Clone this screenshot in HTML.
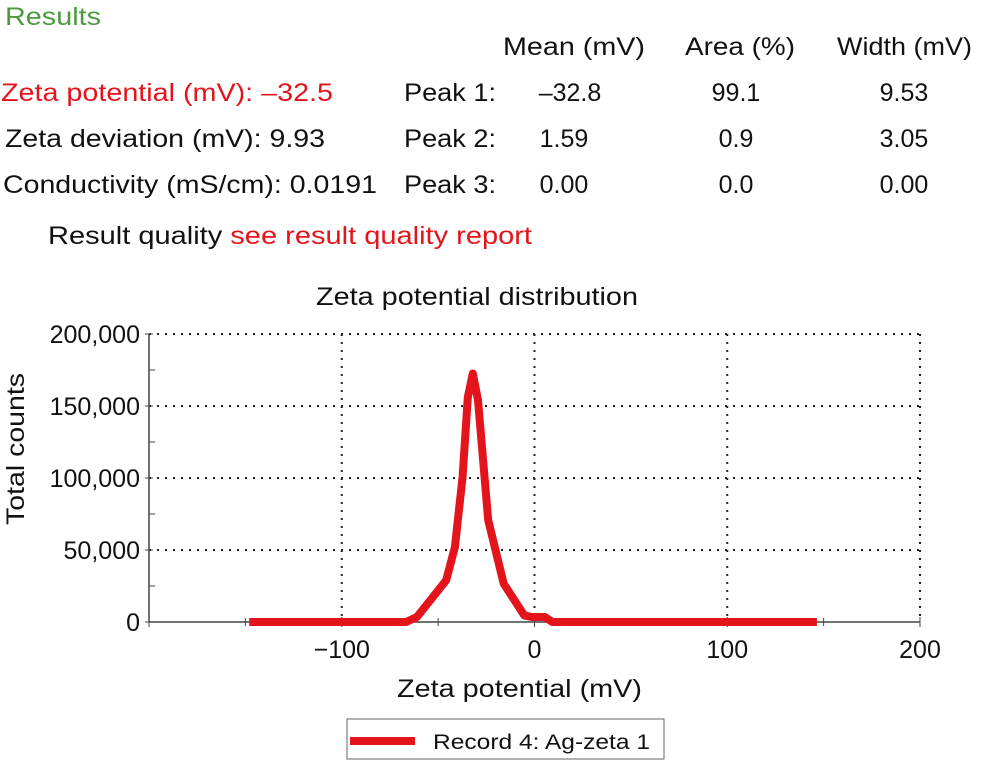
<!DOCTYPE html>
<html><head><meta charset="utf-8"><style>
html,body{margin:0;padding:0;background:#fff;}
svg{display:block;font-family:"Liberation Sans",Arial,sans-serif;}
</style></head><body>
<svg id="chart" width="981" height="762" viewBox="0 0 981 762" xmlns="http://www.w3.org/2000/svg">
<g font-size="25" fill="#111">
<text x="5" y="25" fill="#4a9a3c" textLength="96" lengthAdjust="spacingAndGlyphs">Results</text>
<text x="503" y="55" textLength="142" lengthAdjust="spacingAndGlyphs">Mean (mV)</text>
<text x="685" y="55" textLength="110" lengthAdjust="spacingAndGlyphs">Area (%)</text>
<text x="837" y="55" textLength="135" lengthAdjust="spacingAndGlyphs">Width (mV)</text>
<text x="1" y="101" fill="#e3141b" textLength="332" lengthAdjust="spacingAndGlyphs">Zeta potential (mV): –32.5</text>
<text x="5" y="147" textLength="320" lengthAdjust="spacingAndGlyphs">Zeta deviation (mV): 9.93</text>
<text x="3" y="193" textLength="374" lengthAdjust="spacingAndGlyphs">Conductivity (mS/cm): 0.0191</text>
<text x="404" y="101" textLength="92" lengthAdjust="spacingAndGlyphs">Peak 1:</text>
<text x="404" y="147" textLength="92" lengthAdjust="spacingAndGlyphs">Peak 2:</text>
<text x="404" y="193" textLength="92" lengthAdjust="spacingAndGlyphs">Peak 3:</text>
<g text-anchor="middle">
<text x="570" y="101">–32.8</text><text x="736" y="101">99.1</text><text x="904" y="101">9.53</text>
<text x="564" y="147">1.59</text><text x="736" y="147">0.9</text><text x="904" y="147">3.05</text>
<text x="564" y="193">0.00</text><text x="736" y="193">0.0</text><text x="904" y="193">0.00</text>
</g>
<text x="48" y="244" textLength="484" lengthAdjust="spacingAndGlyphs">Result quality <tspan fill="#e3141b">see result quality report</tspan></text>
<text x="316" y="305" textLength="322" lengthAdjust="spacingAndGlyphs">Zeta potential distribution</text>
<text x="397" y="697" textLength="245" lengthAdjust="spacingAndGlyphs">Zeta potential (mV)</text>
<text transform="translate(24,525) rotate(-90)" textLength="152" lengthAdjust="spacingAndGlyphs">Total counts</text>
</g>
<g id="grid"></g>
<g id="axes"></g>
<g id="series"></g>
<g>
<rect x="347" y="719" width="317" height="40" fill="#fff" stroke="#666" stroke-width="1"/>
<line x1="350" y1="741" x2="415" y2="741" stroke="#e3141b" stroke-width="8"/>
<text x="433" y="749" font-size="21" fill="#111" textLength="217" lengthAdjust="spacingAndGlyphs">Record 4: Ag-zeta 1</text>
</g>
</svg>
<script>
const xTicks=[-200,-100,0,100,200];
const xTickLabels=["","−100","0","100","200"];
const yTicks=[0,50000,100000,150000,200000];
const yTickLabels=["0","50,000","100,000","150,000","200,000"];
const seriesX=[-148,-66.6,-61,-50.6,-45.8,-41.3,-37.3,-34.6,-32,-29.3,-24,-16,-5.3,-1.3,5.3,9.3,146.5];
const seriesY=[0,0,3500,20900,29000,52000,100800,156000,172600,154000,70700,26600,4600,3500,3500,0,0];
const NS="http://www.w3.org/2000/svg";
const L=149,R=920,T=334,B=622;
function xs(v){return L+(v+200)/400*(R-L);}
function ys(v){return B-v/200000*(B-T);}
function mk(t,a,p){const e=document.createElementNS(NS,t);for(const k in a)e.setAttribute(k,a[k]);p.appendChild(e);return e;}
const grid=document.getElementById('grid'),axes=document.getElementById('axes'),ser=document.getElementById('series');
xTicks.forEach((v,i)=>{
 if(v>-200){const g=mk('line',{x1:xs(v),x2:xs(v),y1:T,y2:B,stroke:'#222','stroke-width':2,'stroke-dasharray':'2 6'},grid);
 
 }
 const t=mk('text',{x:xs(v),y:658,'text-anchor':'middle','font-size':25,fill:'#111'},axes);t.textContent=xTickLabels[i];
 
 
 mk('line',{x1:xs(v),x2:xs(v),y1:B-5,y2:B+5,stroke:'#444'},axes);
});
[-150,-50,50,150].forEach(v=>mk('line',{x1:xs(v),x2:xs(v),y1:B-4,y2:B+4,stroke:'#444'},axes));
yTicks.forEach((v,i)=>{
 if(v>0){const g=mk('line',{x1:L,x2:R,y1:ys(v),y2:ys(v),stroke:'#222','stroke-width':2,'stroke-dasharray':'2 6'},grid);
 
 }
 const t=mk('text',{x:140,y:ys(v)+9,'text-anchor':'end','font-size':25,fill:'#111'},axes);t.textContent=yTickLabels[i];
 
 
 mk('line',{x1:L-4,x2:L+4,y1:ys(v),y2:ys(v),stroke:'#444'},axes);
 if(i<yTicks.length-1)mk('line',{x1:L,x2:L+6,y1:ys(v+25000),y2:ys(v+25000),stroke:'#444'},axes);
});
mk('line',{x1:L,x2:L,y1:T,y2:B,stroke:'#444','stroke-width':1.5},axes);
mk('line',{x1:L,x2:R,y1:B,y2:B,stroke:'#444','stroke-width':1.5},axes);
const pts=seriesX.map((x,i)=>xs(x).toFixed(1)+','+ys(seriesY[i]).toFixed(1)).join(' ');
const pl=mk('polyline',{points:pts,fill:'none',stroke:'#e3141b','stroke-width':8,'stroke-linejoin':'round'},ser);


</script>
</body></html>
